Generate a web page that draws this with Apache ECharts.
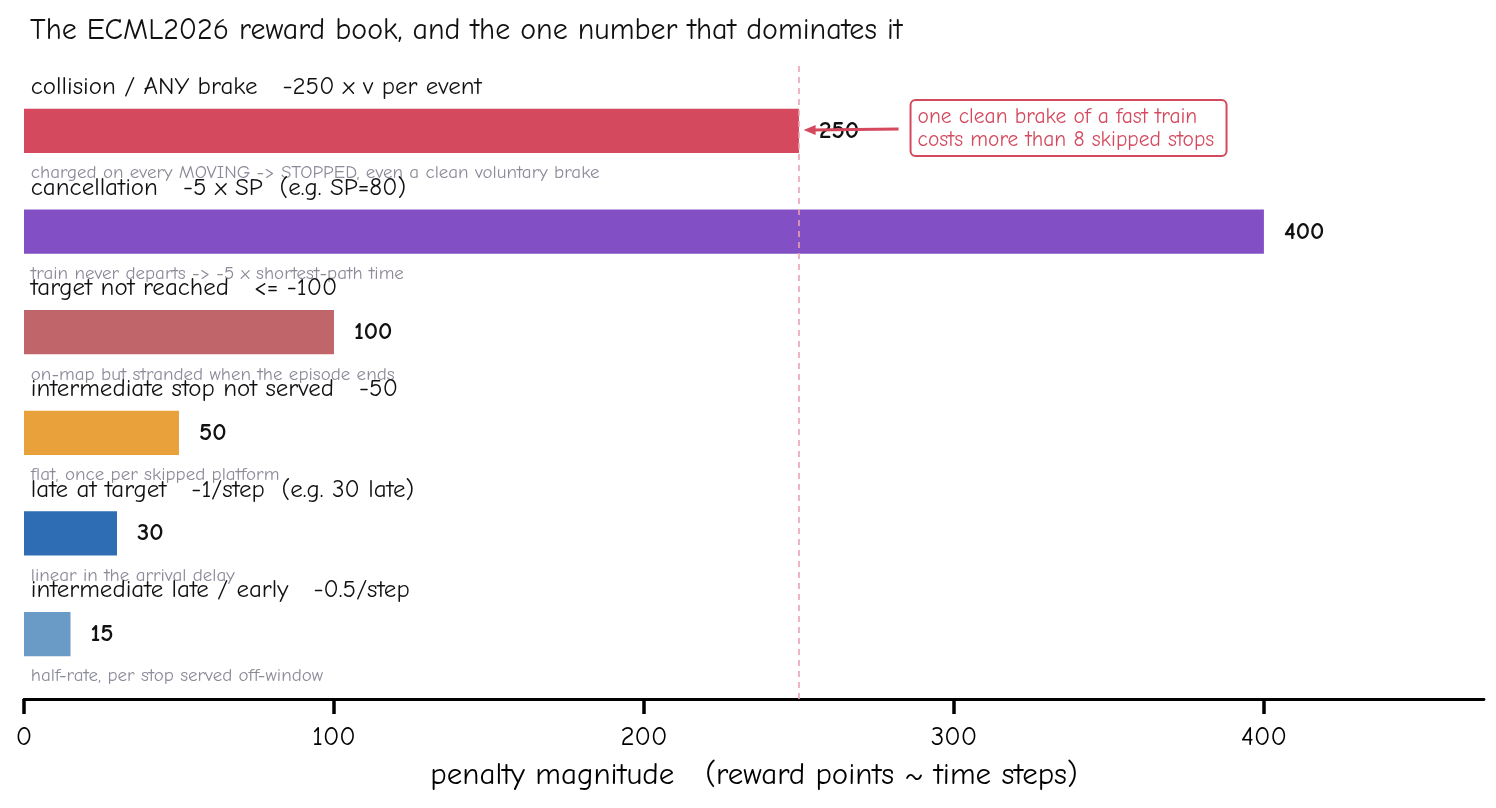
<!DOCTYPE html>
<html>
<head>
<meta charset="utf-8">
<script src="https://cdn.jsdelivr.net/npm/echarts@6/dist/echarts.min.js"></script>
<style>
html,body{margin:0;padding:0;background:#fff;}
#chart{width:1496px;height:808px;}
</style>
</head>
<body>
<div id="chart"></div>
<script>
const titleText = 'The ECML2026 reward book, and the one number that dominates it';
const categories = [
  'collision / ANY brake   -250 x v per event',
  'cancellation   -5 x SP  (e.g. SP=80)',
  'target not reached   <= -100',
  'intermediate stop not served   -50',
  'late at target   -1/step  (e.g. 30 late)',
  'intermediate late / early   -0.5/step'
];
const notes = [
  'charged on every MOVING -> STOPPED, even a clean voluntary brake',
  'train never departs -> -5 x shortest-path time',
  'on-map but stranded when the episode ends',
  'flat, once per skipped platform',
  'linear in the arrival delay',
  'half-rate, per stop served off-window'
];
const values = [250, 400, 100, 50, 30, 15];
const barColors = ['#d4495e', '#8250c4', '#c0666b', '#e9a23b', '#2e6db4', '#6a9bc6'];
const xTicks = [0, 100, 200, 300, 400];
const xMax = 471;
const refValue = 250;
const annotationLines = ['one clean brake of a fast train', 'costs more than 8 skipped stops'];
const annotationTip = [251.5, 0];
const annotationBoxAt = [286, 0];
const xName = 'penalty magnitude   (reward points ~ time steps)';

const FONT = "'Comic Neue','Comic Sans MS','Humor Sans','DejaVu Sans',sans-serif";
const chart = echarts.init(document.getElementById('chart'), null, {renderer: 'canvas'});

const barData = values.map((v, i) => [v, i]);

chart.setOption({
  backgroundColor: '#ffffff',
  animation: false,
  title: {
    text: titleText,
    left: 25, top: 11,
    textStyle: {fontFamily: FONT, fontSize: 30, fontWeight: 'normal', color: '#111'}
  },
  grid: {left: 24, right: 12, top: 66, bottom: 109},
  xAxis: {
    type: 'value', min: 0, max: xMax,
    splitLine: {show: false},
    axisLine: {show: true, onZero: false, lineStyle: {color: '#000', width: 2.8}},
    axisTick: {show: true, customValues: xTicks, length: 15, lineStyle: {color: '#000', width: 3.5}},
    axisLabel: {customValues: xTicks, fontFamily: FONT, fontSize: 27, color: '#000', margin: 25},
    name: xName, nameLocation: 'middle', nameGap: 61,
    nameTextStyle: {fontFamily: FONT, fontSize: 31, color: '#000'}
  },
  yAxis: {
    type: 'value', min: -0.646, max: 5.646, inverse: true, show: false
  },
  series: [
    {
      type: 'custom',
      data: barData,
      clip: false,
      renderItem: function (params, api) {
        const i = api.value(1);
        const v = api.value(0);
        const start = api.coord([0, i]);
        const end = api.coord([v, i]);
        const h = api.size([0, 0.44])[1];
        const lbl = api.coord([2.2, i - 0.437]);
        const note = api.coord([2.2, i + 0.418]);
        return {
          type: 'group',
          children: [
            {type: 'rect', shape: {x: start[0], y: start[1] - h / 2, width: end[0] - start[0], height: h},
             style: {fill: barColors[i]}},
            {type: 'text', x: lbl[0], y: lbl[1],
             style: {text: categories[i], fontFamily: FONT, fontSize: 25, fill: '#111', verticalAlign: 'middle', align: 'left'}},
            {type: 'text', x: note[0], y: note[1],
             style: {text: notes[i], fontFamily: FONT, fontSize: 19, fill: '#8b8b99', verticalAlign: 'middle', align: 'left'}},
            {type: 'text', x: end[0] + 20, y: end[1],
             style: {text: String(v), fontFamily: FONT, fontSize: 25, fontWeight: 'bold', fill: '#111', verticalAlign: 'middle', align: 'left'}}
          ]
        };
      },
      markLine: {
        silent: true, symbol: 'none', label: {show: false},
        lineStyle: {color: '#eba3b2', type: [6, 5], width: 1.6},
        data: [{xAxis: refValue}]
      },
      z: 2
    },
    {
      type: 'custom',
      data: [[annotationTip[0], annotationTip[1], annotationBoxAt[0]]],
      clip: false,
      z: 5,
      renderItem: function (params, api) {
        const tip = api.coord([api.value(0), api.value(1)]);
        const box = api.coord([api.value(2), api.value(1)]);
        const bx = box[0], by = box[1] - 31, bw = 316, bh = 56;
        const c = '#d4495e';
        return {
          type: 'group',
          children: [
            {type: 'line', shape: {x1: bx - 12, y1: tip[1] - 2, x2: tip[0] + 8, y2: tip[1] - 1},
             style: {stroke: c, lineWidth: 3}},
            {type: 'polygon', shape: {points: [[tip[0], tip[1] - 1], [tip[0] + 12, tip[1] - 6], [tip[0] + 12, tip[1] + 4]]},
             style: {fill: c}},
            {type: 'rect', shape: {x: bx, y: by, width: bw, height: bh, r: 5},
             style: {fill: '#fff', stroke: c, lineWidth: 2}},
            {type: 'text', x: bx + 7, y: by + 17,
             style: {text: annotationLines[0], fontFamily: FONT, fontSize: 21.5, fill: c, verticalAlign: 'middle'}},
            {type: 'text', x: bx + 7, y: by + 40,
             style: {text: annotationLines[1], fontFamily: FONT, fontSize: 21.5, fill: c, verticalAlign: 'middle'}}
          ]
        };
      }
    }
  ]
});
</script>
</body>
</html>
